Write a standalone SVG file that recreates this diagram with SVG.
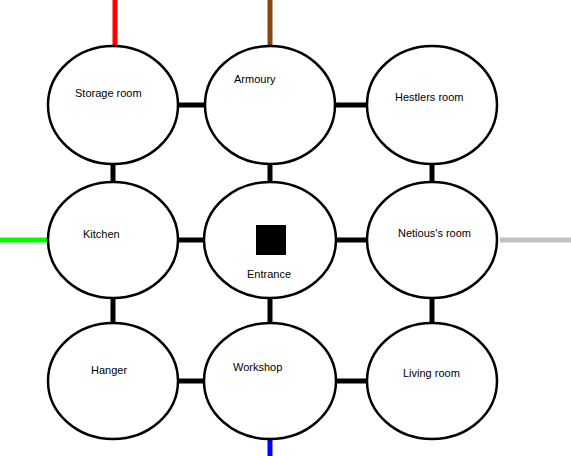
<svg xmlns="http://www.w3.org/2000/svg" width="571" height="456" viewBox="0 0 571 456">
<style>
.room{fill:#fff;stroke:#000;stroke-width:2.5}
.door{stroke:#000;stroke-width:5}
.lbl{font-family:"Liberation Sans",Arial,sans-serif;font-size:11px;fill:#000}
</style>
<rect width="571" height="456" fill="#fff"/>
<g id="connectors">
<line x1="115" y1="0" x2="115" y2="46" stroke="#ff0000" stroke-width="5"/>
<line x1="270" y1="0" x2="270" y2="46" stroke="#8b4513" stroke-width="5"/>
<line x1="0" y1="240" x2="47" y2="240" stroke="#00ff00" stroke-width="5"/>
<line x1="500" y1="240" x2="571" y2="240" stroke="#c0c0c0" stroke-width="5"/>
<line x1="270" y1="438" x2="270" y2="456" stroke="#0000ff" stroke-width="5"/>
<line class="door" x1="176" y1="105" x2="206" y2="105"/>
<line class="door" x1="333" y1="105" x2="369" y2="105"/>
<line class="door" x1="176" y1="240" x2="206" y2="240"/>
<line class="door" x1="333" y1="240" x2="369" y2="240"/>
<line class="door" x1="176" y1="381" x2="206" y2="381"/>
<line class="door" x1="333" y1="381" x2="369" y2="381"/>
<line class="door" x1="113" y1="162" x2="113" y2="185"/>
<line class="door" x1="270" y1="162" x2="270" y2="185"/>
<line class="door" x1="432" y1="162" x2="432" y2="185"/>
<line class="door" x1="113" y1="296" x2="113" y2="324"/>
<line class="door" x1="270" y1="296" x2="270" y2="324"/>
<line class="door" x1="432" y1="296" x2="432" y2="324"/>
</g>
<g id="storage"><ellipse class="room" cx="113" cy="105" rx="65" ry="59"/><text class="lbl" x="75" y="97">Storage room</text></g>
<g id="armoury"><ellipse class="room" cx="270" cy="105" rx="65" ry="59"/><text class="lbl" x="234" y="83">Armoury</text></g>
<g id="hestlers"><ellipse class="room" cx="432" cy="105" rx="65" ry="59"/><text class="lbl" x="395" y="101">Hestlers room</text></g>
<g id="kitchen"><ellipse class="room" cx="113" cy="240" rx="65" ry="58"/><text class="lbl" x="83" y="238">Kitchen</text></g>
<g id="entrance"><ellipse class="room" cx="270" cy="240" rx="66" ry="58"/><rect x="256" y="225" width="30" height="30" fill="#000"/><text class="lbl" x="247" y="278">Entrance</text></g>
<g id="netious"><ellipse class="room" cx="432" cy="240" rx="65" ry="58"/><text class="lbl" x="398" y="237">Netious's room</text></g>
<g id="hanger"><ellipse class="room" cx="113" cy="381" rx="65" ry="58"/><text class="lbl" x="91" y="374">Hanger</text></g>
<g id="workshop"><ellipse class="room" cx="270" cy="381" rx="66" ry="58"/><text class="lbl" x="233" y="371">Workshop</text></g>
<g id="living"><ellipse class="room" cx="432" cy="381" rx="65" ry="58"/><text class="lbl" x="403" y="377">Living room</text></g>
</svg>
